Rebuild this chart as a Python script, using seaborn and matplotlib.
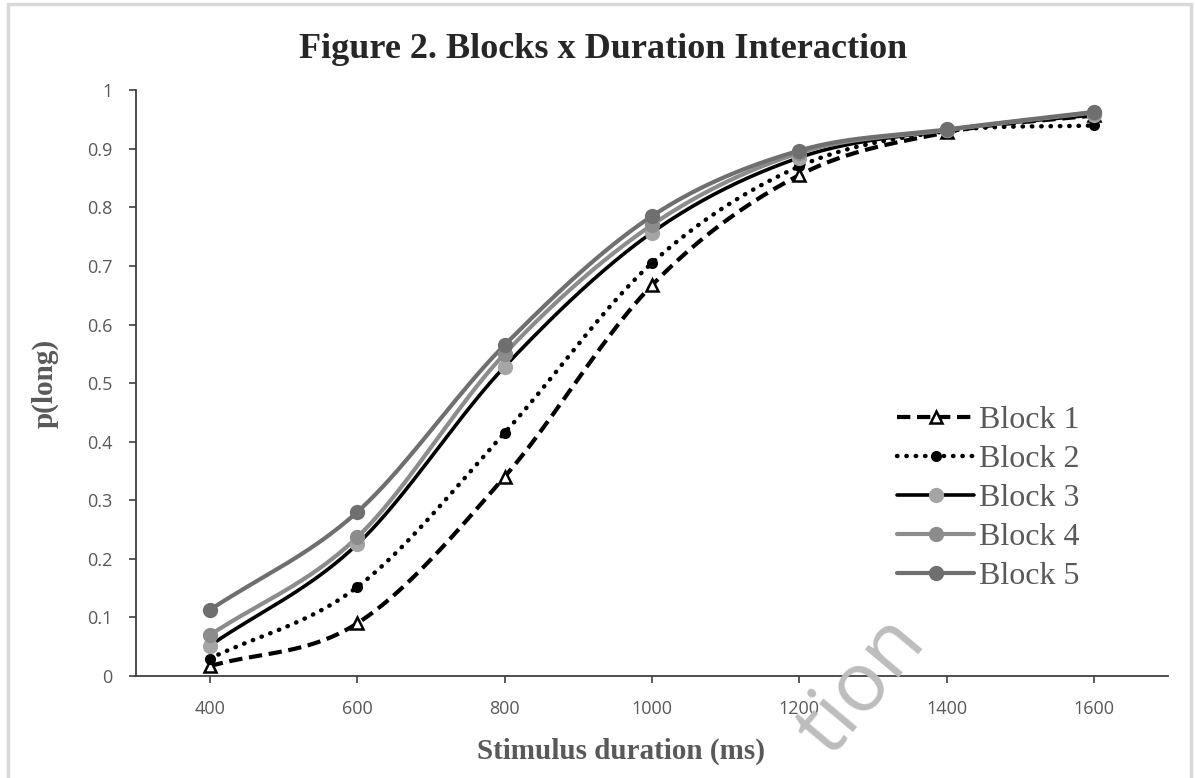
import numpy as np
import pandas as pd
import matplotlib.pyplot as plt
import seaborn as sns
from matplotlib.lines import Line2D
from matplotlib.patches import Rectangle

# values
durations = [400, 600, 800, 1000, 1200, 1400, 1600]
block1 = [0.017, 0.090, 0.340, 0.667, 0.855, 0.928, 0.957]
block2 = [0.030, 0.152, 0.415, 0.705, 0.870, 0.930, 0.940]
block3 = [0.052, 0.225, 0.528, 0.757, 0.885, 0.932, 0.958]
block4 = [0.070, 0.237, 0.550, 0.770, 0.893, 0.932, 0.962]
block5 = [0.113, 0.280, 0.565, 0.785, 0.897, 0.933, 0.963]
labels = ['Block 1', 'Block 2', 'Block 3', 'Block 4', 'Block 5']
series = [block1, block2, block3, block4, block5]

sns.set_theme(style='white')
plt.rcParams['font.family'] = ['Liberation Serif', 'DejaVu Serif']


def smooth(x, y, n=40):
    # Catmull-Rom curve through the points (Excel-style smoothed line)
    x = np.asarray(x, float)
    y = np.asarray(y, float)
    px = np.concatenate([[2 * x[0] - x[1]], x, [2 * x[-1] - x[-2]]])
    py = np.concatenate([[2 * y[0] - y[1]], y, [2 * y[-1] - y[-2]]])
    xs, ys = [], []
    t = np.linspace(0, 1, n, endpoint=False)
    for i in range(1, len(px) - 2):
        for p, out in ((px, xs), (py, ys)):
            p0, p1, p2, p3 = p[i - 1], p[i], p[i + 1], p[i + 2]
            m1 = (p2 - p0) / 6
            m2 = (p3 - p1) / 6
            b = ((1 - t) ** 3 * p1 + 3 * (1 - t) ** 2 * t * (p1 + m1)
                 + 3 * (1 - t) * t ** 2 * (p2 - m2) + t ** 3 * p2)
            out.extend(b)
    xs.append(x[-1])
    ys.append(y[-1])
    return np.array(xs), np.array(ys)


styles = {
    'Block 1': dict(color='black', ls=(0, (3.2, 1.6)), lw=3.0, marker='^', mfc='white',
                    mec='black', ms=9, mew=1.8, cap='butt'),
    'Block 2': dict(color='black', ls=(0, (0.1, 2.0)), lw=3.2, marker='o', mfc='black',
                    mec='black', ms=8, mew=0, cap='round'),
    'Block 3': dict(color='black', ls='-', lw=2.6, marker='o', mfc='#a5a5a5',
                    mec='#a5a5a5', ms=11, mew=0, cap='butt'),
    'Block 4': dict(color='#8c8c8c', ls='-', lw=3.0, marker='o', mfc='#8c8c8c',
                    mec='#8c8c8c', ms=11, mew=0, cap='butt'),
    'Block 5': dict(color='#6f6f6f', ls='-', lw=3.0, marker='o', mfc='#6f6f6f',
                    mec='#6f6f6f', ms=11, mew=0, cap='butt'),
}

fig = plt.figure(figsize=(11.95, 7.78), dpi=100)
ax = fig.add_axes([0.114, 0.131, 0.863, 0.753])

for name, vals in zip(labels, series):
    st = styles[name]
    sx, sy = smooth(durations, vals)
    curve = pd.DataFrame({'duration': sx, 'p': sy})
    sns.lineplot(data=curve, x='duration', y='p', ax=ax, color=st['color'],
                 lw=st['lw'], sort=False, dash_capstyle=st['cap'],
                 linestyle=st['ls'], zorder=2)
    pts = pd.DataFrame({'duration': durations, 'p': vals})
    ax.plot(pts['duration'], pts['p'], ls='none', marker=st['marker'],
            mfc=st['mfc'], mec=st['mec'], ms=st['ms'], mew=st['mew'], zorder=3)

ax.set_xlim(300, 1700)
ax.set_ylim(0, 1)
ax.set_xticks(durations)
ax.set_yticks(np.arange(0, 1.01, 0.1))
ax.set_yticklabels(['0'] + ['%.1f' % v for v in np.arange(0.1, 0.95, 0.1)] + ['1'])
for lab in ax.get_xticklabels() + ax.get_yticklabels():
    lab.set_fontfamily('Open Sans')
    lab.set_fontsize(13)
    lab.set_color('#595959')
ax.tick_params(axis='both', length=5, width=1.2, color='#404040', pad=12,
               bottom=True, left=True, direction='out')
sns.despine(ax=ax)
for s in ['left', 'bottom']:
    ax.spines[s].set_color('#404040')
    ax.spines[s].set_linewidth(1.3)

ax.set_xlabel('Stimulus duration (ms)', fontsize=21, fontweight='bold', color='#595959')
ax.set_ylabel('p(long)', fontsize=21, fontweight='bold', color='#595959')
ax.xaxis.set_label_coords(0.47, -0.105)
ax.yaxis.set_label_coords(-0.075, 0.5)

fig.suptitle('Figure 2. Blocks x Duration Interaction', fontsize=26, fontweight='bold',
             y=0.958, x=0.505)

handles = []
for name in labels:
    st = styles[name]
    handles.append(Line2D([], [], color=st['color'], lw=st['lw'], ls=st['ls'],
                          marker=st['marker'], mfc=st['mfc'], mec=st['mec'],
                          ms=st['ms'], mew=st['mew'], dash_capstyle=st['cap']))
leg = ax.legend(handles, labels, loc='upper left', bbox_to_anchor=(0.71, 0.51),
                frameon=False, handlelength=2.4, handletextpad=0.15,
                labelspacing=0.3, prop={'family': 'Liberation Serif', 'size': 23})
for t in leg.get_texts():
    t.set_color('#595959')

fig.patches.append(Rectangle((0.007, -0.05), 0.99, 1.045, transform=fig.transFigure,
                             fill=False, ec='#d9d9d9', lw=2.5))
fig.text(0.722, 0.118, 'tion', fontsize=60, family='Open Sans', color='#bdbdbd',
         rotation=50, ha='center', va='center', zorder=0)

fig.savefig('out.png', dpi=100)
